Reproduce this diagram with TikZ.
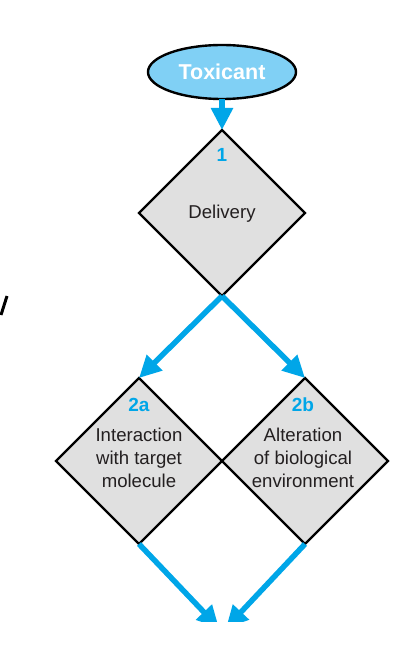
\documentclass[tikz,border=0pt]{standalone}
\usepackage{fontspec}
\setmainfont{Liberation Sans}
\usetikzlibrary{shapes.geometric,arrows.meta}
\definecolor{flowblue}{RGB}{0,166,232}
\definecolor{ovalblue}{RGB}{128,208,245}
\definecolor{boxgray}{RGB}{224,224,224}
\definecolor{inkgray}{RGB}{35,31,32}
\tikzset{
  flow/.style={draw=flowblue, line width=5.5pt, -{Triangle[width=21pt,length=22pt]}},
  stepdiamond/.style={diamond, draw=black, line width=2.4pt, fill=boxgray, minimum width=166pt, minimum height=166pt, inner sep=0pt, outer sep=0pt},
  num/.style={text=flowblue, font=\fontsize{19}{23}\selectfont\bfseries},
  lbl/.style={text=inkgray, font=\fontsize{18.6}{23}\selectfont, align=center, inner sep=0pt}
}
\begin{document}
\begin{tikzpicture}[x=1pt,y=-1pt]
\useasboundingbox (0,0) rectangle (416,660);
\fill[white] (0,0) rectangle (416,660);
% oval
\node[ellipse, draw=black, line width=2.4pt, fill=ovalblue, minimum width=148pt, minimum height=54pt, inner sep=0pt, outer sep=0pt, text=white, font=\fontsize{21.5}{24}\selectfont\bfseries] (tox) at (222,72) {Toxicant};
% diamonds
\node[stepdiamond] (d1) at (222,213) {};
\node[stepdiamond] (d2a) at (139,461) {};
\node[stepdiamond] (d2b) at (305,461) {};
% labels
\node[num] (n1) at (222,155) {1};
\node[lbl] (t1) at (222,214) {Delivery};
\node[num] (n2a) at (139,405) {2a};
\node[lbl] (t2a) at (139,458) {Interaction\\with target\\molecule};
\node[num] (n2b) at (303,405) {2b};
\node[lbl] (t2b) at (303,458) {Alteration\\of biological\\environment};
% connectors
\draw[flow] (tox.south) -- (d1.north);
\draw[flow] (d1.south) -- (d2a.north);
\draw[flow] (d1.south) -- (d2b.north);
\coordinate (endL) at (219,628);
\coordinate (endR) at (226,628);
\begin{scope}
\clip (0,0) rectangle (416,621);
\draw[flow] (d2a.south) -- (endL);
\draw[flow] (d2b.south) -- (endR);
\end{scope}
% fragment of cropped text at left edge
\draw[black, line width=3pt] (7,296) -- (1,315);
\end{tikzpicture}
\end{document}
